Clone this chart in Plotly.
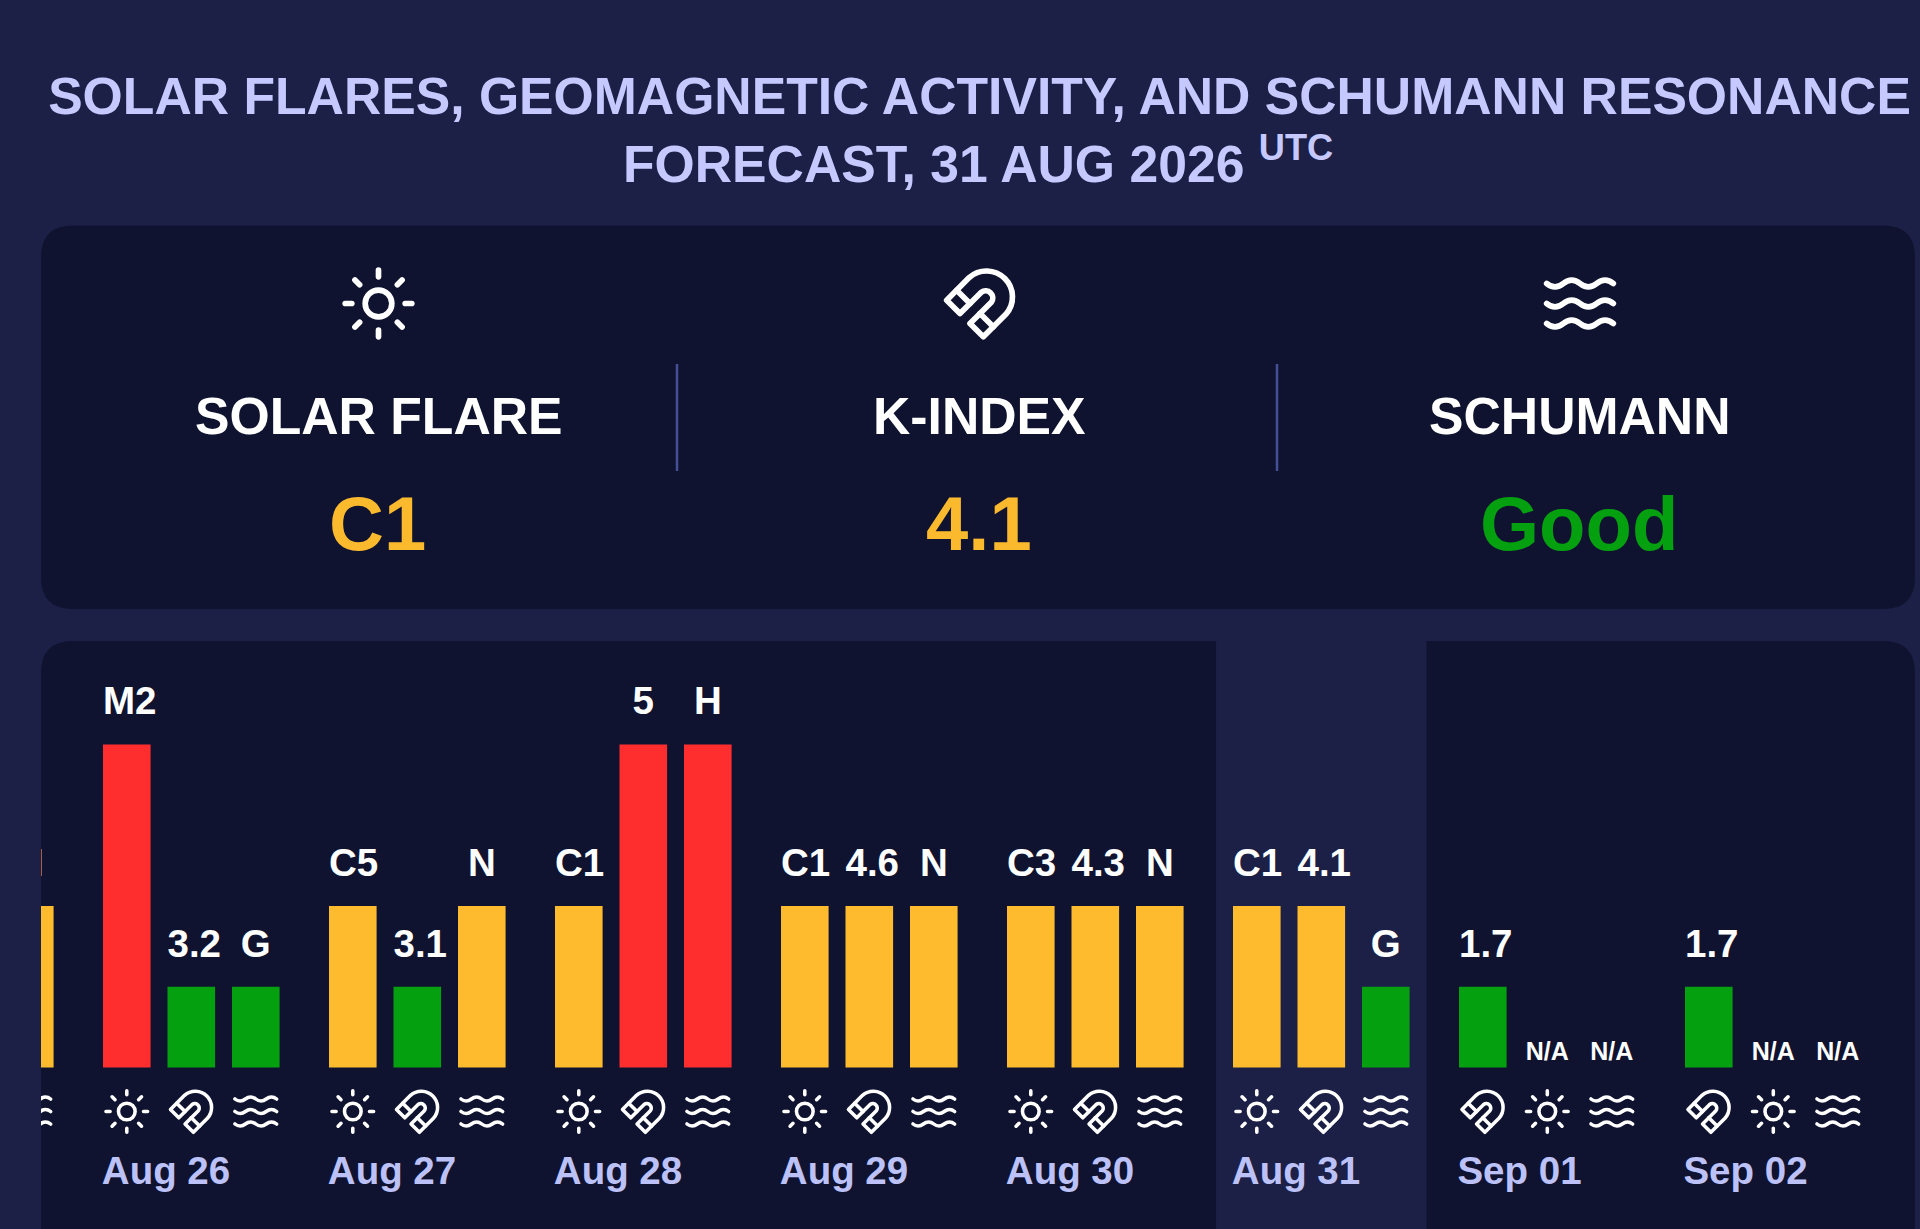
import base64
import plotly.graph_objects as go

W, H = 1920, 1229

# ---- data ----
dates = ["Aug 25", "Aug 26", "Aug 27", "Aug 28", "Aug 29", "Aug 30", "Aug 31", "Sep 01", "Sep 02"]
flare_labels = [None, "M2", "C5", "C1", "C1", "C3", "C1", "N/A", "N/A"]
flare_levels = [None, 4, 2, 2, 2, 2, 2, 0, 0]
flare_slots = [0, 0, 0, 0, 0, 0, 0, 1, 1]
kindex_labels = [None, "3.2", "3.1", "5", "4.6", "4.3", "4.1", "1.7", "1.7"]
kindex_levels = [None, 1, 1, 4, 2, 2, 2, 1, 1]
kindex_slots = [1, 1, 1, 1, 1, 1, 1, 0, 0]
schumann_labels = ["N", "G", "N", "H", "N", "N", "G", "N/A", "N/A"]
schumann_levels = [2, 1, 2, 4, 2, 2, 1, 0, 0]
schumann_slots = [2, 2, 2, 2, 2, 2, 2, 2, 2]
level_colors = {0: "#05a010", 1: "#05a010", 2: "#fdbb2d", 4: "#ff2e2e"}

stat_titles = ["SOLAR FLARE", "K-INDEX", "SCHUMANN"]
stat_values = ["C1", "4.1", "Good"]
stat_colors = ["#fbb92e", "#fbb92e", "#05a010"]
today_index = dates.index("Aug 31")

BG = "#1c2046"
PANEL = "#0f1330"
TITLE = "#c5c9ff"
TICK = "#bcc2f8"

# ---- geometry ----
DAY = 226.0
UNIT = 80.75
SLOT = 64.5 / DAY
BAR_W = 47.6 / DAY
CENTER0 = -34.7
PLOT_L, PLOT_R, PLOT_T = 41, 1915, 641
ZERO_Y = 1067.5
x_range = [(PLOT_L - CENTER0) / DAY, (PLOT_R - CENTER0) / DAY]
y_range = [-(H - ZERO_Y) / UNIT, (ZERO_Y - PLOT_T) / UNIT]
LABEL_GAP = 0.255
ICON_Y = -44 / UNIT


def px(v):
    return v / W


def py(v):
    return 1 - v / H


def icon(inner):
    svg = ('<svg xmlns="http://www.w3.org/2000/svg" width="240" height="240" viewBox="0 0 24 24" fill="none" '
           'stroke="#ffffff" stroke-width="1.7" stroke-linecap="round" stroke-linejoin="round">' + inner + '</svg>')
    return "data:image/svg+xml;base64," + base64.b64encode(svg.encode()).decode()


SUN = icon('<circle cx="12" cy="12" r="4"/><path d="M12 2v2M12 20v2M4.93 4.93l1.41 1.41M17.66 17.66l1.41 1.41'
           'M2 12h2M20 12h2M6.34 17.66l-1.41 1.41M19.07 4.93l-1.41 1.41"/>')
MAGNET = icon('<path d="m6 15-4-4 6.75-6.77a7.79 7.79 0 0 1 11 11L13 22l-4-4 6.39-6.36a2.14 2.14 0 0 0-3-3L6 15"/>'
              '<path d="m5 8 4 4"/><path d="m12 15 4 4"/>')
WAVES = icon('<path d="M2 6c.6.5 1.2 1 2.5 1C7 7 7 5 9.5 5c2.6 0 2.4 2 5 2 2.5 0 2.5-2 5-2 1.3 0 1.9.5 2.5 1"/>'
             '<path d="M2 12c.6.5 1.2 1 2.5 1 2.5 0 2.5-2 5-2 2.6 0 2.4 2 5 2 2.5 0 2.5-2 5-2 1.3 0 1.9.5 2.5 1"/>'
             '<path d="M2 18c.6.5 1.2 1 2.5 1 2.5 0 2.5-2 5-2 2.6 0 2.4 2 5 2 2.5 0 2.5-2 5-2 1.3 0 1.9.5 2.5 1"/>')

series = [
    ("Solar flare", flare_labels, flare_levels, flare_slots, SUN),
    ("K-index", kindex_labels, kindex_levels, kindex_slots, MAGNET),
    ("Schumann", schumann_labels, schumann_levels, schumann_slots, WAVES),
]

fig = go.Figure()
images = []
for name, labels, levels, slots, src in series:
    xs = [d + (s - 1) * SLOT for d, s in enumerate(slots)]
    fig.add_trace(go.Bar(
        x=xs, y=levels, width=BAR_W, name=name,
        marker=dict(color=[level_colors.get(v, PANEL) for v in levels], line=dict(width=0)),
        hoverinfo="skip",
    ))
    big = [(x, v, t) for x, v, t in zip(xs, levels, labels) if t and t != "N/A"]
    # labels wider than a bar start at the bar's left edge, narrow ones are centred on it
    fig.add_trace(go.Scatter(
        x=[b[0] - (BAR_W / 2 if len(b[2]) > 1 else 0) for b in big],
        y=[b[1] + LABEL_GAP for b in big], text=[b[2] for b in big],
        mode="text", textposition=["top right" if len(b[2]) > 1 else "top center" for b in big],
        cliponaxis=True, showlegend=False, hoverinfo="skip",
        textfont=dict(family="Liberation Sans", size=38.5, color="#ffffff", weight="bold"),
    ))
    small = [(x, t) for x, t in zip(xs, labels) if t == "N/A"]
    if small:
        fig.add_trace(go.Scatter(
            x=[b[0] for b in small], y=[0.02] * len(small), text=[b[1] for b in small],
            mode="text", textposition="top center", cliponaxis=True, showlegend=False, hoverinfo="skip",
            textfont=dict(family="Liberation Sans", size=25, color="#ffffff", weight="bold"),
        ))
    for x in xs:
        images.append(dict(source=src, xref="x", yref="y", x=x, y=ICON_Y, sizex=50 / DAY, sizey=50 / UNIT,
                           xanchor="center", yanchor="middle", sizing="contain", layer="above"))

# stat panel
stat_centers = [378.5, 980, 1580]
for src, cx in zip([SUN, MAGNET, WAVES], stat_centers):
    images.append(dict(source=src, xref="paper", yref="paper", x=px(cx), y=py(303.5), sizex=80 / W, sizey=80 / H,
                       xanchor="center", yanchor="middle", sizing="contain", layer="above"))


def round_panel(x0, y0, x1, y1, r, bottom=True):
    p = f"M{px(x0)},{py(y0 + r)} Q{px(x0)},{py(y0)} {px(x0 + r)},{py(y0)} L{px(x1 - r)},{py(y0)} Q{px(x1)},{py(y0)} {px(x1)},{py(y0 + r)} "
    if bottom:
        p += f"L{px(x1)},{py(y1 - r)} Q{px(x1)},{py(y1)} {px(x1 - r)},{py(y1)} L{px(x0 + r)},{py(y1)} Q{px(x0)},{py(y1)} {px(x0)},{py(y1 - r)} Z"
    else:
        p += f"L{px(x1)},{py(y1)} L{px(x0)},{py(y1)} Z"
    return p


shapes = [
    dict(type="path", xref="paper", yref="paper", path=round_panel(41, 225.5, 1915, 609, 32), fillcolor=PANEL,
         line_width=0, layer="below"),
    dict(type="path", xref="paper", yref="paper", path=round_panel(41, 641, 1915, H, 32, bottom=False), fillcolor=PANEL,
         line_width=0, layer="below"),
    dict(type="rect", xref="x", yref="paper", x0=today_index - 105.25 / DAY, x1=today_index + 105.25 / DAY,
         y0=0, y1=py(641), fillcolor=BG, line_width=0, layer="below"),
]
for sx in [677, 1277]:
    shapes.append(dict(type="line", xref="paper", yref="paper", x0=px(sx), x1=px(sx), y0=py(364), y1=py(471),
                       line=dict(color="#454f96", width=2.5), layer="below"))

annotations = [
    dict(text="FORECAST, 31 AUG 2026 <sup>UTC</sup>", xref="paper", yref="paper", x=px(978), y=py(160), showarrow=False,
         xanchor="center", yanchor="middle", font=dict(family="Liberation Sans", size=51.7, color=TITLE, weight="bold")),
]
for cx, t, v, c in zip(stat_centers, stat_titles, stat_values, stat_colors):
    annotations.append(dict(text=t, xref="paper", yref="paper", x=px(cx), y=py(416), showarrow=False,
                            xanchor="center", yanchor="middle",
                            font=dict(family="Liberation Sans", size=51.7, color="#ffffff", weight="bold")))
    annotations.append(dict(text=v, xref="paper", yref="paper", x=px(cx - 1), y=py(523), showarrow=False,
                            xanchor="center", yanchor="middle",
                            font=dict(family="Liberation Sans", size=76, color=c, weight="bold")))

fig.update_layout(
    width=W, height=H, autosize=False, margin=dict(l=0, r=0, t=0, b=0),
    paper_bgcolor=BG, plot_bgcolor="rgba(0,0,0,0)", showlegend=False, barmode="overlay",
    title=dict(text="SOLAR FLARES, GEOMAGNETIC ACTIVITY, AND SCHUMANN RESONANCE", x=px(979.5), y=py(95.5),
               xanchor="center", yanchor="middle", xref="paper", yref="paper",
               font=dict(family="Liberation Sans", size=51.7, color=TITLE, weight="bold")),
    xaxis=dict(domain=[px(PLOT_L), px(PLOT_R)], range=x_range, anchor="free", position=py(1144.5), showgrid=False,
               zeroline=False, showline=False, ticks="", tickmode="array",
               tickvals=[d - (27.8 if t.startswith("Sep") else 25.3) / DAY for d, t in enumerate(dates)],
               ticktext=dates, tickangle=0,
               tickfont=dict(family="Liberation Sans", size=38.5, color=TICK, weight="bold")),
    yaxis=dict(domain=[0, py(PLOT_T)], range=y_range, visible=False, showgrid=False, zeroline=False),
    shapes=shapes, images=images, annotations=annotations,
)

fig.write_html("out.html", config={"displayModeBar": False},
               post_script="document.body.style.margin='0';document.body.style.background='%s';document.documentElement.style.overflow='hidden';" % BG)
